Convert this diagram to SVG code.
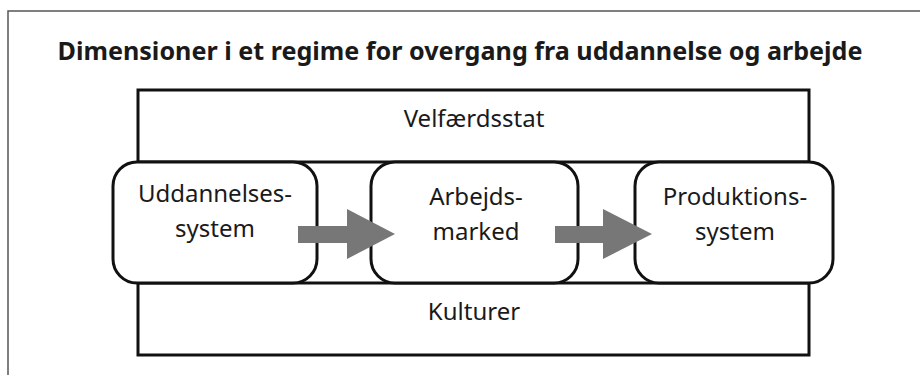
<svg xmlns="http://www.w3.org/2000/svg" width="920" height="375" viewBox="0 0 920 375">
  <style>
    .frame { fill: none; stroke: #555555; stroke-width: 1.5; }
    .band { fill: none; stroke: #111111; stroke-width: 3; }
    .box { fill: #ffffff; stroke: #111111; stroke-width: 3; }
    .arrow { fill: #777777; stroke: none; }
    text { font-family: "Noto Sans", "Open Sans", "Liberation Sans", sans-serif; fill: #1a1a1a; text-anchor: middle; }
    .title { font-size: 25px; font-weight: bold; }
    .lbl { font-size: 24px; }
  </style>

  <!-- page frame -->
  <path class="frame" d="M920,11 H8 V375"/>

  <text class="title" x="460" y="60" textLength="805" lengthAdjust="spacingAndGlyphs">Dimensioner i et regime for overgang fra uddannelse og arbejde</text>

  <!-- outer context: welfare state above, cultures below -->
  <g id="context">
    <rect class="band" x="138" y="90" width="671" height="265"/>
    <line class="band" x1="138" y1="162" x2="809" y2="162"/>
    <line class="band" x1="138" y1="283" x2="809" y2="283"/>
    <text class="lbl" x="474" y="127">Velfærdsstat</text>
    <text class="lbl" x="474" y="320">Kulturer</text>
  </g>

  <g id="uddannelsessystem">
    <rect class="box" x="113" y="162" width="204" height="121" rx="24" ry="24"/>
    <text class="lbl" x="215" y="202">Uddannelses-</text>
    <text class="lbl" x="215" y="237">system</text>
  </g>

  <g id="arbejdsmarked">
    <rect class="box" x="371" y="162" width="207" height="121" rx="24" ry="24"/>
    <text class="lbl" x="476" y="205">Arbejds-</text>
    <text class="lbl" x="476" y="240">marked</text>
  </g>

  <g id="produktionssystem">
    <rect class="box" x="635" y="162" width="198" height="121" rx="24" ry="24"/>
    <text class="lbl" x="735" y="205">Produktions-</text>
    <text class="lbl" x="735" y="240">system</text>
  </g>

  <!-- block arrows between the systems -->
  <g id="connectors">
    <polygon class="arrow" points="298,226 347,226 347,209 395,234 347,259 347,243 298,243"/>
    <polygon class="arrow" points="555,226 603,226 603,209 652,234 603,259 603,243 555,243"/>
  </g>
</svg>
